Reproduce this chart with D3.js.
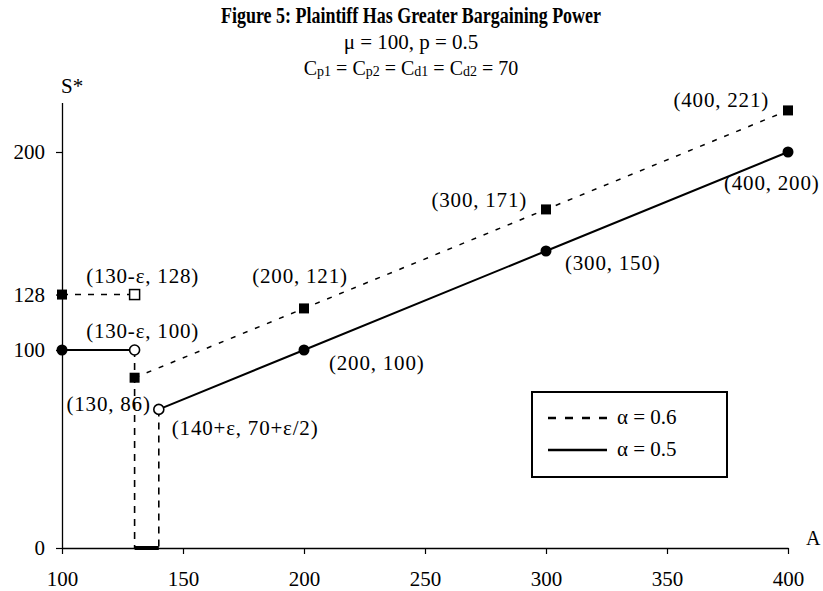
<!DOCTYPE html>
<html>
<head>
<meta charset="utf-8">
<script src="https://cdn.jsdelivr.net/npm/d3@7"></script>
<style>
  html, body { margin: 0; padding: 0; background: #fff; }
  svg { display: block; font-family: "Liberation Serif", "Times New Roman", serif; }
  .tick text { font-size: 21px; font-family: "Liberation Serif", serif; }
</style>
</head>
<body>
<script>
// chart values
var ticksA = [100, 150, 200, 250, 300, 350, 400];
var ticksS = [0, 100, 128, 200];
var flat06 = [[100, 128], [130, 128]];
var line06 = [[130, 86], [200, 121], [300, 171], [400, 221]];
var flat05 = [[100, 100], [130, 100]];
var line05 = [[140, 70], [200, 100], [300, 150], [400, 200]];
var drops = [[130, 100], [140, 70]];
var gapA = [130, 140];
var labelText = ["(130-ε, 128)", "(130-ε, 100)", "(130, 86)", "(140+ε, 70+ε/2)",
    "(200, 121)", "(200, 100)", "(300, 171)", "(300, 150)", "(400, 221)", "(400, 200)"];
var labelAt = [[130, 128], [130, 100], [130, 86], [140, 70],
    [200, 121], [200, 100], [300, 171], [300, 150], [400, 221], [400, 200]];
var legendText = ["α = 0.6", "α = 0.5"];

// where each label sits relative to its point
var labelNudge = [
    {dx: 8, dy: -12, anchor: 'middle'},
    {dx: 8, dy: -12, anchor: 'middle'},
    {dx: -26, dy: 33, anchor: 'middle'},
    {dx: 13, dy: 26, anchor: 'start'},
    {dx: -4, dy: -25, anchor: 'middle'},
    {dx: 25, dy: 20, anchor: 'start'},
    {dx: -19, dy: -2, anchor: 'end'},
    {dx: 19, dy: 19, anchor: 'start'},
    {dx: -19, dy: -3, anchor: 'end'},
    {dx: -64, dy: 38, anchor: 'start'}
];

var width = 823, height = 591;
var svg = d3.select('body').append('svg')
    .attr('width', width)
    .attr('height', height);

var x = d3.scaleLinear().domain([100, 400]).range([62, 788]);
var y = d3.scaleLinear().domain([0, 225]).range([548, 102.5]);

// title block
svg.append('text')
    .attr('x', 411).attr('y', 23)
    .attr('text-anchor', 'middle')
    .attr('textLength', 380).attr('lengthAdjust', 'spacingAndGlyphs')
    .style('font-size', '24px').style('font-weight', 'bold')
    .text('Figure 5: Plaintiff Has Greater Bargaining Power');

svg.append('text')
    .attr('x', 411).attr('y', 49)
    .attr('text-anchor', 'middle')
    .style('font-size', '21px')
    .text('μ = 100, p = 0.5');

var sub = svg.append('text')
    .attr('x', 411).attr('y', 75)
    .attr('text-anchor', 'middle')
    .style('font-size', '20px');
[['C', 'p1', ' = '], ['C', 'p2', ' = '], ['C', 'd1', ' = '], ['C', 'd2', ' = 70']].forEach(function(p) {
    sub.append('tspan').text(p[0]);
    sub.append('tspan').style('font-size', '14px').attr('dy', 1).text(p[1]);
    sub.append('tspan').attr('dy', -1).text(p[2]);
});

// axes
var xAxis = svg.append('g')
    .attr('transform', 'translate(0,' + y(0) + ')')
    .call(d3.axisBottom(x).tickValues(ticksA).tickSize(6).tickSizeOuter(0).tickPadding(17)
        .tickFormat(d3.format('d')));
var yAxis = svg.append('g')
    .attr('transform', 'translate(' + x(100) + ',0)')
    .call(d3.axisLeft(y).tickValues(ticksS).tickSize(6).tickSizeOuter(0).tickPadding(11)
        .tickFormat(d3.format('d')));
[xAxis, yAxis].forEach(function(g) {
    g.select('.domain').attr('stroke-width', 1.3);
    g.selectAll('.tick line').attr('stroke-width', 1.2);
    g.selectAll('.tick text').attr('fill', '#000');
});

svg.append('text').attr('x', 61).attr('y', 93).style('font-size', '21px').text('S*');
svg.append('text').attr('x', 806).attr('y', 545).style('font-size', '20px').text('A');

var line = d3.line()
    .x(function(d) { return x(d[0]); })
    .y(function(d) { return y(d[1]); });

// drop lines to the axis and the gap between them
svg.selectAll('.drop')
    .data(drops)
    .enter()
    .append('line')
    .attr('class', 'drop')
    .attr('x1', function(d) { return x(d[0]); })
    .attr('x2', function(d) { return x(d[0]); })
    .attr('y1', function(d) { return y(d[1]); })
    .attr('y2', y(0))
    .attr('stroke', '#000').attr('stroke-width', 1.6)
    .attr('stroke-dasharray', '7,6');

svg.append('line')
    .attr('x1', x(gapA[0])).attr('x2', x(gapA[1]))
    .attr('y1', y(0)).attr('y2', y(0))
    .attr('stroke', '#000').attr('stroke-width', 4);

// alpha = 0.6
svg.append('path').datum(flat06).attr('d', line)
    .attr('fill', 'none').attr('stroke', '#000').attr('stroke-width', 1.6)
    .attr('stroke-dasharray', '6,7');
svg.append('path').datum(line06).attr('d', line)
    .attr('fill', 'none').attr('stroke', '#000').attr('stroke-width', 1.5)
    .attr('stroke-dasharray', '5,8');

// alpha = 0.5
svg.append('path').datum(flat05).attr('d', line)
    .attr('fill', 'none').attr('stroke', '#000').attr('stroke-width', 2);
svg.append('path').datum(line05).attr('d', line)
    .attr('fill', 'none').attr('stroke', '#000').attr('stroke-width', 2);

// markers
var squares = [flat06[0]].concat(line06).map(function(d) { return {p: d, open: false}; })
    .concat([{p: flat06[1], open: true}]);
svg.selectAll('.sq')
    .data(squares)
    .enter()
    .append('rect')
    .attr('class', 'sq')
    .attr('x', function(d) { return x(d.p[0]) - 5; })
    .attr('y', function(d) { return y(d.p[1]) - 5; })
    .attr('width', 10).attr('height', 10)
    .attr('fill', function(d) { return d.open ? '#fff' : '#000'; })
    .attr('stroke', '#000').attr('stroke-width', function(d) { return d.open ? 1.5 : 0; });

var dots = [flat05[0]].concat(line05.slice(1)).map(function(d) { return {p: d, open: false}; })
    .concat([{p: flat05[1], open: true}, {p: line05[0], open: true}]);
svg.selectAll('.dot')
    .data(dots)
    .enter()
    .append('circle')
    .attr('class', 'dot')
    .attr('cx', function(d) { return x(d.p[0]); })
    .attr('cy', function(d) { return y(d.p[1]); })
    .attr('r', function(d) { return d.open ? 5 : 5.5; })
    .attr('fill', function(d) { return d.open ? '#fff' : '#000'; })
    .attr('stroke', '#000').attr('stroke-width', function(d) { return d.open ? 1.6 : 0; });

// point labels
svg.selectAll('.lbl')
    .data(labelText)
    .enter()
    .append('text')
    .attr('class', 'lbl')
    .attr('x', function(d, i) { return x(labelAt[i][0]) + labelNudge[i].dx; })
    .attr('y', function(d, i) { return y(labelAt[i][1]) + labelNudge[i].dy; })
    .attr('text-anchor', function(d, i) { return labelNudge[i].anchor; })
    .style('font-size', '21px')
    .style('letter-spacing', '0.8px')
    .text(function(d) { return d; });

// legend
var legend = svg.append('g').attr('transform', 'translate(532,392)');
legend.append('rect')
    .attr('width', 195).attr('height', 85)
    .attr('fill', '#fff').attr('stroke', '#000').attr('stroke-width', 2);
legendText.forEach(function(t, i) {
    legend.append('line')
        .attr('x1', 16).attr('x2', 75)
        .attr('y1', 26 + i * 32).attr('y2', 26 + i * 32)
        .attr('stroke', '#000').attr('stroke-width', 2.4)
        .attr('stroke-dasharray', i === 0 ? '8,9' : null);
    legend.append('text')
        .attr('x', 85).attr('y', 32 + i * 32)
        .style('font-size', '21px')
        .text(t);
});
</script>
</body>
</html>
